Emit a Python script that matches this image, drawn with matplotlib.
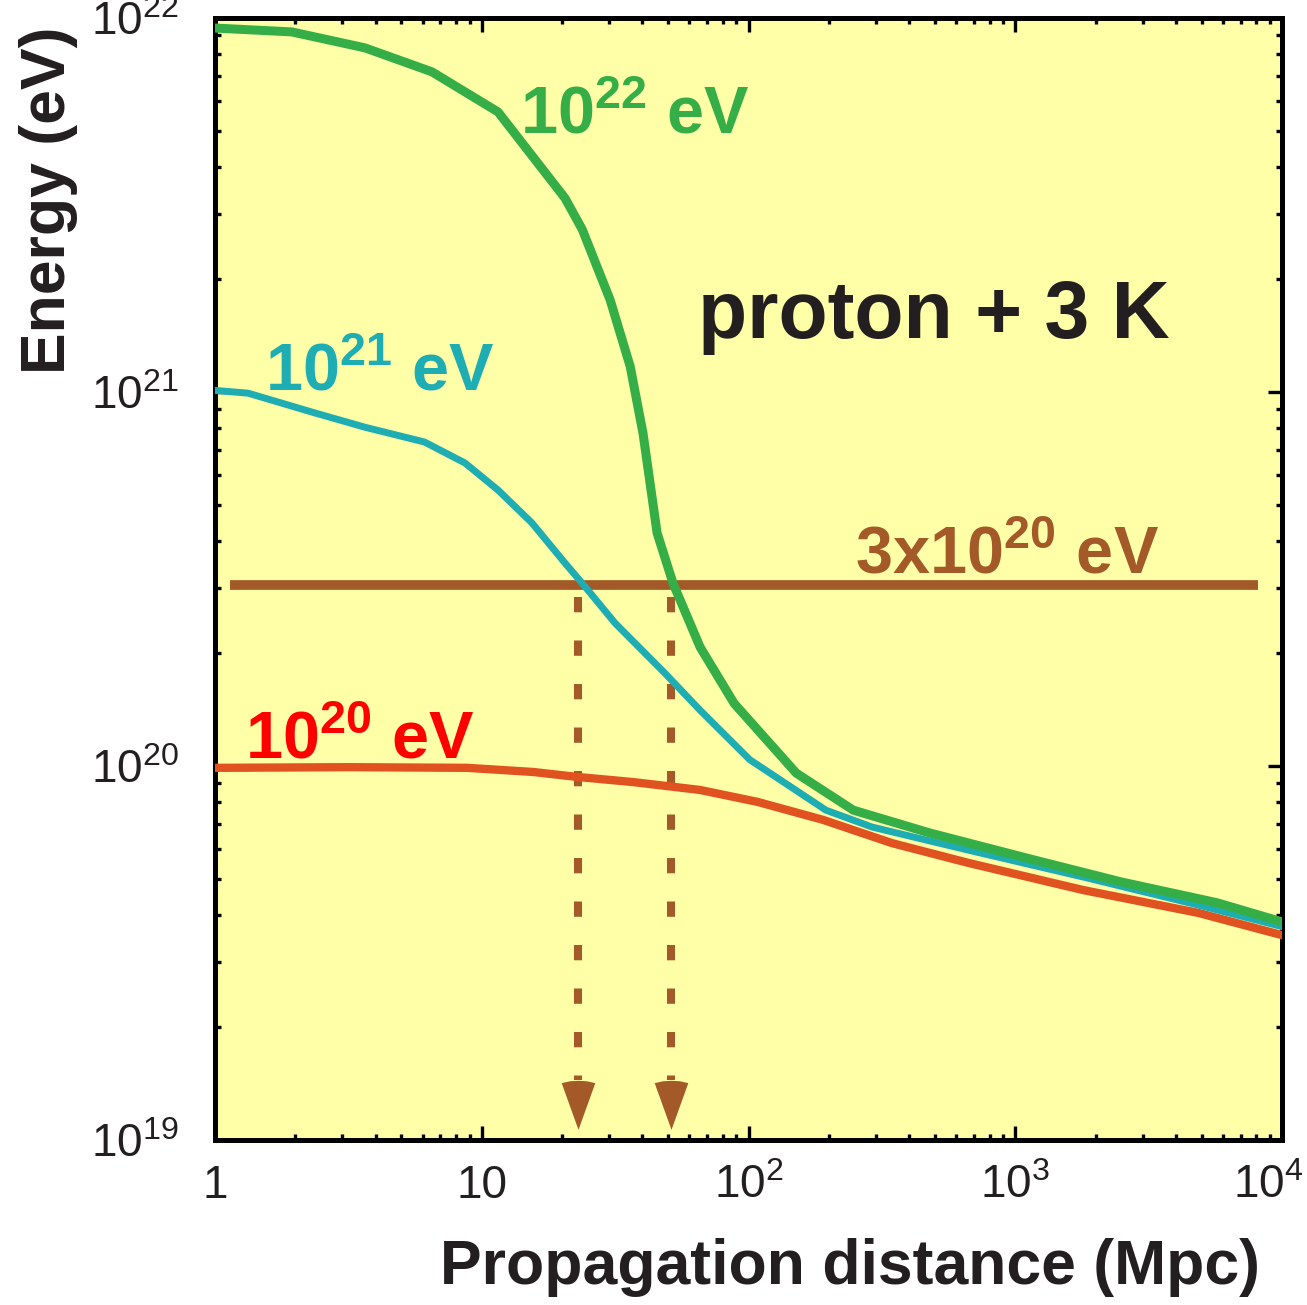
import matplotlib
matplotlib.use("Agg")
import matplotlib.pyplot as plt
from matplotlib.ticker import FixedLocator, FixedFormatter, LogLocator, NullFormatter
from matplotlib.transforms import ScaledTranslation

plt.rcParams['font.family'] = ['Liberation Sans', 'DejaVu Sans']
plt.rcParams['mathtext.default'] = 'regular'

# distance (Mpc) and energy (eV)
dist_22 = [1, 1.94, 3.65, 6.5, 11.5, 20.5, 23.8, 30.3, 36, 40.2, 45.4, 52.1, 65.8, 88.3, 151, 247, 479, 1097, 2490, 5700, 1e4]
en_22 = [9.40e21, 9.18e21, 8.32e21, 7.18e21, 5.61e21, 3.30e21, 2.72e21, 1.76e21, 1.17e21, 7.76e20, 4.20e20,
         3.08e20, 2.08e20, 1.47e20, 9.57e19, 7.62e19, 6.62e19, 5.68e19, 4.90e19, 4.31e19, 3.83e19]

dist_21 = [1, 1.33, 2.37, 3.65, 6.1, 8.65, 11.5, 15.4, 20.5, 23.8, 31.6, 48.6, 65.8, 101, 195, 290, 665, 1795, 4840, 1e4]
en_21 = [1.01e21, 9.93e20, 8.79e20, 8.05e20, 7.35e20, 6.46e20, 5.47e20, 4.47e20, 3.49e20, 3.08e20,
         2.41e20, 1.77e20, 1.41e20, 1.04e20, 7.62e19, 6.87e19, 5.96e19, 5.05e19, 4.25e19, 3.72e19]

dist_20 = [1, 3.2, 8.8, 15.6, 22.8, 36.9, 65.8, 108, 190, 345, 665, 1795, 4840, 1e4]
en_20 = [9.89e19, 9.93e19, 9.89e19, 9.64e19, 9.35e19, 9.06e19, 8.63e19, 8.02e19, 7.18e19,
         6.22e19, 5.51e19, 4.66e19, 4.05e19, 3.53e19]

threshold = 3.05e20
cross_dist = [23, 51]   # where 10^21 and 10^22 curves drop to 3x10^20

xticks = [1, 10, 1e2, 1e3, 1e4]
xlabels = ['1', '10', '$10^{2}$', '$10^{3}$', '$10^{4}$']
yticks = [1e19, 1e20, 1e21, 1e22]
ylabels = ['$10^{19}$', '$10^{20}$', '$10^{21}$', '$10^{22}$']

green = '#36AE47'
cyan = '#1FADB4'
red = '#E05220'
brown = '#A45A28'
black = '#231F20'

fig = plt.figure(figsize=(13.07, 13.05), dpi=100)
ax = fig.add_axes([0.1645, 0.1264, 0.8165, 0.8598])
ax.set_facecolor('#FFFFA8')
ax.set_xscale('log')
ax.set_yscale('log')
ax.set_xlim(1, 1e4)
ax.set_ylim(1e19, 1e22)

# threshold line and the arrows down to the axis
ax.axhline(threshold, xmin=0.014, xmax=0.977, color=brown, lw=7, solid_capstyle='butt', zorder=2)
for d in cross_dist:
    ax.plot([d, d], [threshold * 0.93, 1.45e19], color=brown, lw=5.8,
            dashes=(1.9, 3.5), dash_capstyle='butt', zorder=2)
    ax.plot(d, 1.23e19, marker=[(-0.36, 0.5), (-0.18, 0.54), (0, 0.55), (0.18, 0.54), (0.36, 0.5), (0, -0.5)],
            ms=37, color=brown, mec=brown, mew=0, zorder=2)

ax.plot(dist_20, en_20, color=red, lw=6, zorder=3)
ax.plot(dist_21, en_21, color=cyan, lw=5, zorder=4)
ax.plot(dist_22, en_22, color=green, lw=6.5, zorder=5)

# labels
ax.text(0.286, 0.897, '$10^{22}$ eV', transform=ax.transAxes, color=green,
        fontsize=48, fontweight='bold', va='baseline')
ax.text(0.047, 0.668, '$10^{21}$ eV', transform=ax.transAxes, color=cyan,
        fontsize=48, fontweight='bold', va='baseline')
ax.text(0.028, 0.340, '$10^{20}$ eV', transform=ax.transAxes, color='#FF0000',
        fontsize=48, fontweight='bold', va='baseline')
ax.text(0.600, 0.505, '3x$10^{20}$ eV', transform=ax.transAxes, color=brown,
        fontsize=48, fontweight='bold', va='baseline')
ax.text(0.453, 0.715, 'proton + 3 K', transform=ax.transAxes, color=black,
        fontsize=58, fontweight='bold', va='baseline')

ax.xaxis.set_major_locator(FixedLocator(xticks))
ax.xaxis.set_major_formatter(FixedFormatter(xlabels))
ax.yaxis.set_major_locator(FixedLocator(yticks))
ax.yaxis.set_major_formatter(FixedFormatter(ylabels))
ax.xaxis.set_minor_locator(LogLocator(base=10, subs=range(2, 10)))
ax.yaxis.set_minor_locator(LogLocator(base=10, subs=range(2, 10)))
ax.xaxis.set_minor_formatter(NullFormatter())
ax.yaxis.set_minor_formatter(NullFormatter())

ax.tick_params(which='both', direction='in', top=True, right=True, colors='black')
ax.tick_params(which='major', length=10, width=2.4, labelsize=33, labelcolor=black)
ax.tick_params(axis='x', which='major', pad=17)
ax.tick_params(axis='y', which='major', pad=26)
ax.tick_params(which='minor', length=4, width=2.4)
for s in ax.spines.values():
    s.set_linewidth(3.6)

# last x label sits a little inside the figure edge
last = ax.get_xticklabels()[-1]
last.set_transform(last.get_transform() + ScaledTranslation(-14 / 100, 0, fig.dpi_scale_trans))

ax.set_xlabel('Propagation distance (Mpc)', fontsize=45, fontweight='bold', color=black)
ax.xaxis.set_label_coords(0.595, -0.087)
ax.set_ylabel('Energy (eV)', fontsize=45, fontweight='bold', color=black)
ax.yaxis.set_label_coords(-0.128, 0.838)

fig.savefig('out.png', dpi=100)
